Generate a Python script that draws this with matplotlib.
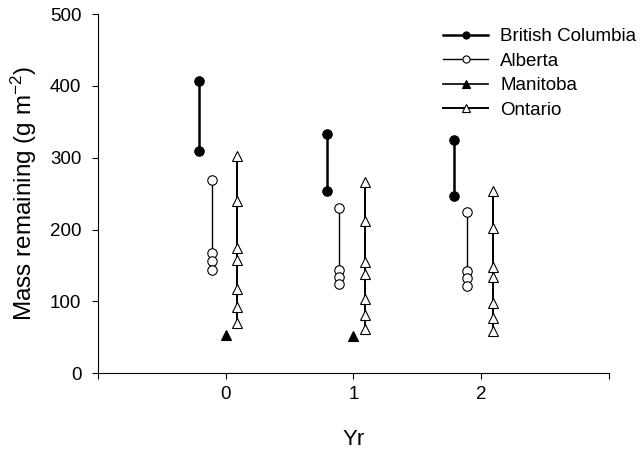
import matplotlib
matplotlib.use("Agg")
import matplotlib.pyplot as plt

plt.rcParams["font.family"] = ["Liberation Sans", "DejaVu Sans"]
plt.rcParams["mathtext.fontset"] = "custom"
plt.rcParams["mathtext.rm"] = "Liberation Sans"
plt.rcParams["mathtext.it"] = "Liberation Sans:italic"

# data (mass remaining, g m-2, per year)
years = [0, 1, 2]
british_columbia = [[407, 310], [333, 254], [325, 247]]
alberta = [[269, 167, 156, 144], [230, 144, 134, 124], [225, 142, 132, 122]]
manitoba = [[53], [52], []]
ontario = [[302, 240, 175, 157, 117, 92, 70],
           [266, 212, 155, 138, 103, 81, 62],
           [254, 202, 148, 134, 98, 77, 59]]

series = [
    ("British Columbia", british_columbia, -0.21, "o", "black", 1.8),
    ("Alberta", alberta, -0.11, "o", "white", 1.0),
    ("Manitoba", manitoba, 0.0, "^", "black", 1.2),
    ("Ontario", ontario, 0.09, "^", "white", 1.4),
]

fig = plt.figure(figsize=(6.43, 4.53), dpi=100)
ax = fig.add_axes([0.1524, 0.176, 0.7946, 0.793])

for name, vals, off, mk, fc, lw in series:
    first = True
    for yr, v in zip(years, vals):
        if not v:
            continue
        ax.plot([yr + off] * len(v), v, color="black", lw=lw, marker=mk,
                markersize=6.8, markerfacecolor=fc, markeredgecolor="black",
                markeredgewidth=0.8, label=name if first else None)
        first = False

ax.set_xlim(-1, 3)
ax.set_ylim(0, 500)
ax.set_xticks([-1, 0, 1, 2, 3])
ax.set_xticklabels(["", "0", "1", "2", ""])
ax.set_yticks([0, 100, 200, 300, 400, 500])
ax.tick_params(direction="out", length=4, width=0.8, labelsize=13.5)
ax.tick_params(axis="x", pad=5)
ax.tick_params(axis="y", pad=8)
for s in ["top", "right"]:
    ax.spines[s].set_visible(False)
for s in ["left", "bottom"]:
    ax.spines[s].set_linewidth(0.8)

ax.set_ylabel("Mass remaining (g m$^{-2}$)", fontsize=17.5, labelpad=8)
ax.set_xlabel("Yr", fontsize=16, labelpad=19)

leg = fig.legend(loc="upper left", bbox_to_anchor=(0.689, 0.938), frameon=False,
                 fontsize=13.5, handlelength=2.4, handletextpad=0.64,
                 labelspacing=0.39, markerscale=0.75, borderpad=0,
                 borderaxespad=0)

fig.savefig("out.png", dpi=100)
